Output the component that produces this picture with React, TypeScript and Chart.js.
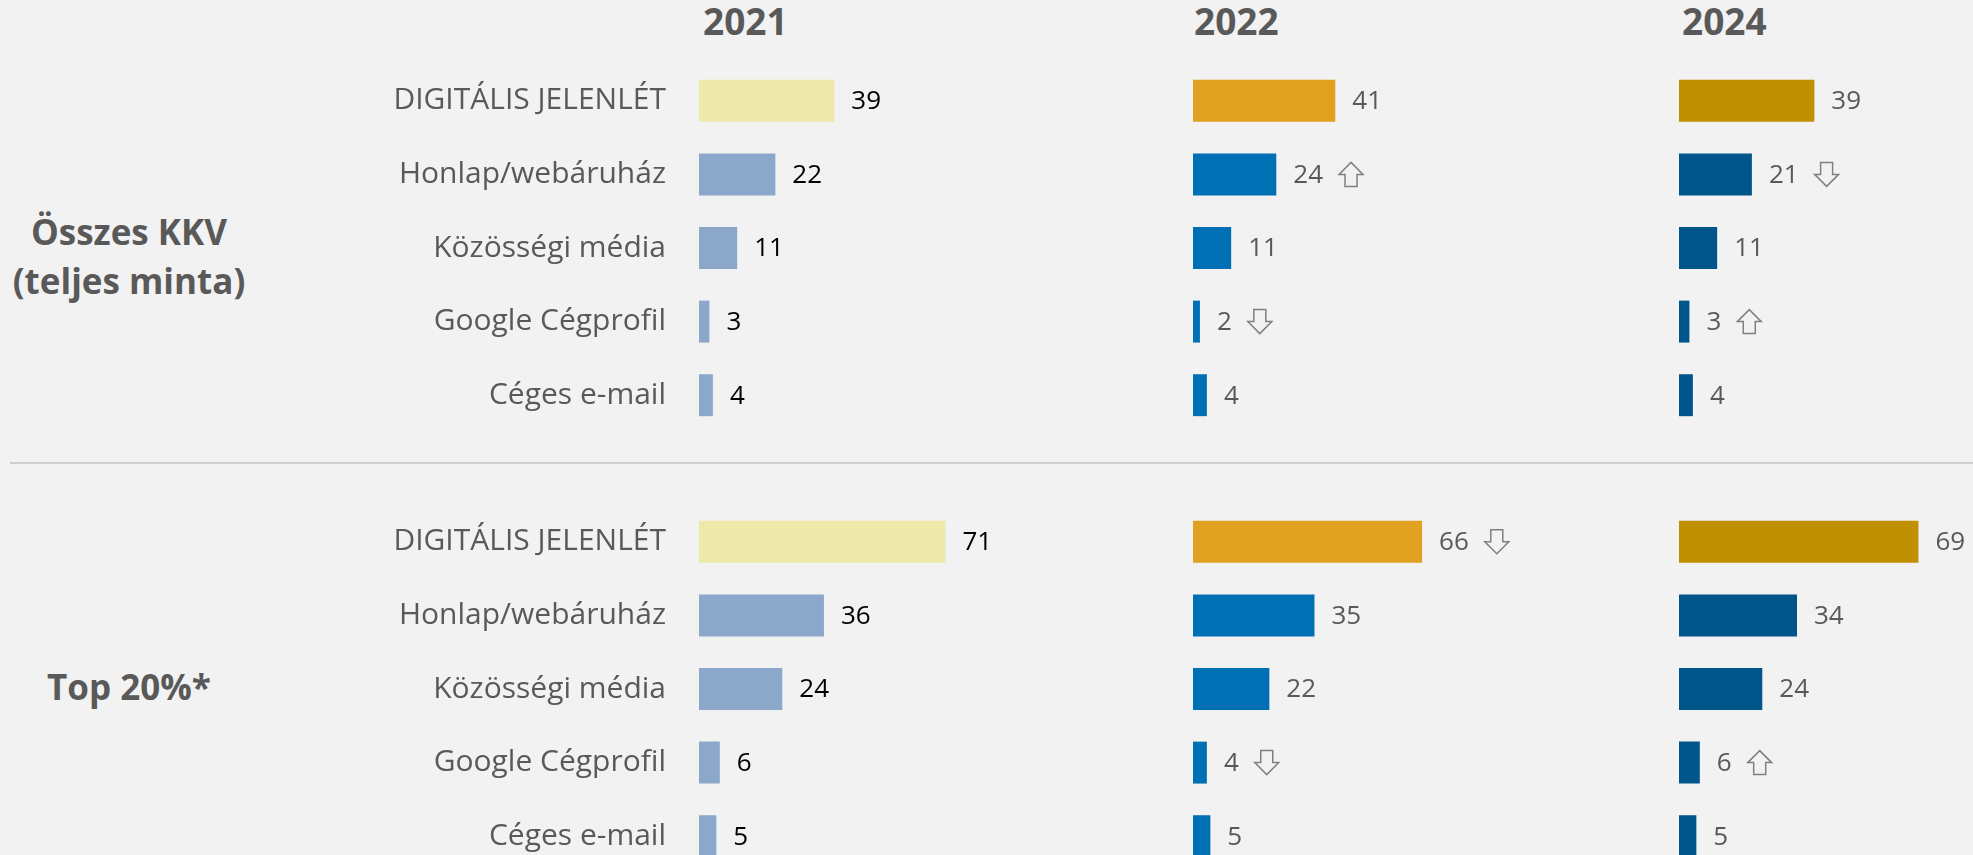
import React, { useEffect, useRef } from 'react';
import { Chart, registerables } from 'chart.js';

Chart.register(...registerables);

// ---------- data ----------
const categories = [
  'DIGITÁLIS JELENLÉT',
  'Honlap/webáruház',
  'Közösségi média',
  'Google Cégprofil',
  'Céges e-mail',
];
const years = ['2021', '2022', '2024'];
const groupTitles = [['Összes KKV', '(teljes minta)'], ['Top 20%*']];

// Összes KKV (teljes minta)
const all2021 = [39, 22, 11, 3, 4];
const all2022 = [41, 24, 11, 2, 4];
const all2024 = [39, 21, 11, 3, 4];
// Top 20%*
const top2021 = [71, 36, 24, 6, 5];
const top2022 = [66, 35, 22, 4, 5];
const top2024 = [69, 34, 24, 6, 5];

// change markers: 1 = up arrow, -1 = down arrow, 0 = none
const allTrend2021 = [0, 0, 0, 0, 0];
const allTrend2022 = [0, 1, 0, -1, 0];
const allTrend2024 = [0, -1, 0, 1, 0];
const topTrend2021 = [0, 0, 0, 0, 0];
const topTrend2022 = [-1, 0, 0, -1, 0];
const topTrend2024 = [0, 0, 0, 1, 0];

// ---------- styles ----------
const FONT = "'Open Sans', 'Noto Sans', sans-serif";
const TEXT_GRAY = '#595959';
const BG = '#F2F2F2';
const X_MAX = 85;
const AREA_W = 295;
const RIGHT_PAD = 160;
const AXIS_W = 419;
const PANEL_H = 368;

const yearStyles = [
  { main: '#EEE8AA', other: '#8BA8CB', label: '#000000' },
  { main: '#E0A020', other: '#0070B5', label: TEXT_GRAY },
  { main: '#C09000', other: '#00558A', label: TEXT_GRAY },
];

const panelLefts = [280, 1193, 1679];
const groupTops = [64, 505];
const headerLefts = [703, 1194, 1682];

const groupValues = [
  [all2021, all2022, all2024],
  [top2021, top2022, top2024],
];
const groupTrends = [
  [allTrend2021, allTrend2022, allTrend2024],
  [topTrend2021, topTrend2022, topTrend2024],
];

function drawArrow(ctx: CanvasRenderingContext2D, left: number, cy: number, dir: number) {
  const w = 24, h = 24, head = 12, shaft = 12;
  const cx = left + w / 2;
  const top = cy - h / 2;
  const pts: [number, number][] = [
    [cx, 0],
    [cx + w / 2, head],
    [cx + shaft / 2, head],
    [cx + shaft / 2, h],
    [cx - shaft / 2, h],
    [cx - shaft / 2, head],
    [cx - w / 2, head],
  ];
  ctx.beginPath();
  pts.forEach(([x, y], i) => {
    const yy = dir > 0 ? top + y : top + h - y;
    if (i === 0) ctx.moveTo(x, yy);
    else ctx.lineTo(x, yy);
  });
  ctx.closePath();
  ctx.strokeStyle = '#808080';
  ctx.lineWidth = 1.5;
  ctx.stroke();
}

function makeLabelPlugin(color: string, trend: number[]) {
  return {
    id: 'valueLabels',
    afterDatasetsDraw(chart: any) {
      const ctx = chart.ctx as CanvasRenderingContext2D;
      const meta = chart.getDatasetMeta(0);
      const data = chart.data.datasets[0].data as number[];
      ctx.save();
      ctx.font = `26px ${FONT}`;
      ctx.textBaseline = 'middle';
      ctx.textAlign = 'left';
      meta.data.forEach((bar: any, i: number) => {
        const text = String(data[i]);
        const x = bar.x + 17;
        ctx.fillStyle = color;
        ctx.fillText(text, x, bar.y + 1);
        const t = trend[i];
        if (t) drawArrow(ctx, x + ctx.measureText(text).width + 16, bar.y, t);
      });
      ctx.restore();
    },
  };
}

export default function App() {
  const refs = useRef<(HTMLCanvasElement | null)[]>([]);

  useEffect(() => {
    const charts: Chart[] = [];
    groupValues.forEach((yearsVals, g) => {
      yearsVals.forEach((values, p) => {
        const canvas = refs.current[g * 3 + p];
        if (!canvas) return;
        const st = yearStyles[p];
        const showAxis = p === 0;
        const chart = new Chart(canvas, {
          type: 'bar',
          data: {
            labels: categories,
            datasets: [
              {
                data: values,
                backgroundColor: values.map((_, i) => (i === 0 ? st.main : st.other)),
                barPercentage: 0.57,
                categoryPercentage: 1,
              },
            ],
          },
          options: {
            indexAxis: 'y',
            responsive: false,
            animation: false,
            devicePixelRatio: 1,
            layout: { padding: { left: 0, right: RIGHT_PAD, top: 0, bottom: 0 } },
            plugins: {
              legend: { display: false },
              tooltip: { enabled: false },
            },
            scales: {
              x: { display: false, min: 0, max: X_MAX },
              y: showAxis
                ? {
                    display: true,
                    grid: { display: false, drawTicks: false },
                    border: { display: false },
                    ticks: {
                      color: TEXT_GRAY,
                      font: { family: FONT, size: 30 },
                      padding: 33,
                      crossAlign: 'near',
                      autoSkip: false,
                    },
                    afterFit: (s: any) => {
                      s.width = AXIS_W;
                      s.paddingTop = 0;
                      s.paddingBottom = 0;
                    },
                  }
                : { display: false },
            },
          } as any,
          plugins: [makeLabelPlugin(st.label, groupTrends[g][p])],
        });
        charts.push(chart);
      });
    });
    return () => charts.forEach((c) => c.destroy());
  }, []);

  const canvases: React.ReactNode[] = [];
  groupValues.forEach((yearsVals, g) => {
    yearsVals.forEach((_, p) => {
      const w = (p === 0 ? AXIS_W : 0) + AREA_W + RIGHT_PAD;
      canvases.push(
        <canvas
          key={`c${g}${p}`}
          ref={(el) => {
            refs.current[g * 3 + p] = el;
          }}
          width={w}
          height={PANEL_H}
          style={{
            position: 'absolute',
            left: panelLefts[p],
            top: groupTops[g],
            width: w,
            height: PANEL_H,
          }}
        />
      );
    });
  });

  return (
    <div
      style={{
        position: 'fixed',
        left: 0,
        top: 0,
        width: 1973,
        height: 855,
        background: BG,
        overflow: 'hidden',
        fontFamily: FONT,
        color: TEXT_GRAY,
      }}
    >
      {years.map((y, i) => (
        <div
          key={y}
          style={{
            position: 'absolute',
            left: headerLefts[i],
            top: 1,
            fontSize: 37,
            fontWeight: 700,
            lineHeight: '40px',
            whiteSpace: 'nowrap',
          }}
        >
          {y}
        </div>
      ))}
      <div
        style={{
          position: 'absolute',
          left: 0,
          top: 207,
          width: 258,
          textAlign: 'center',
          fontSize: 35,
          fontWeight: 700,
          lineHeight: '49px',
        }}
      >
        {groupTitles[0].map((t) => (
          <div key={t}>{t}</div>
        ))}
      </div>
      <div
        style={{
          position: 'absolute',
          left: 0,
          top: 663,
          width: 258,
          textAlign: 'center',
          fontSize: 35,
          fontWeight: 700,
          lineHeight: '48px',
        }}
      >
        {groupTitles[1].map((t) => (
          <div key={t}>{t}</div>
        ))}
      </div>
      <div
        style={{
          position: 'absolute',
          left: 10,
          right: 0,
          top: 462,
          height: 2,
          background: '#D0D0D0',
        }}
      />
      {canvases}
    </div>
  );
}
